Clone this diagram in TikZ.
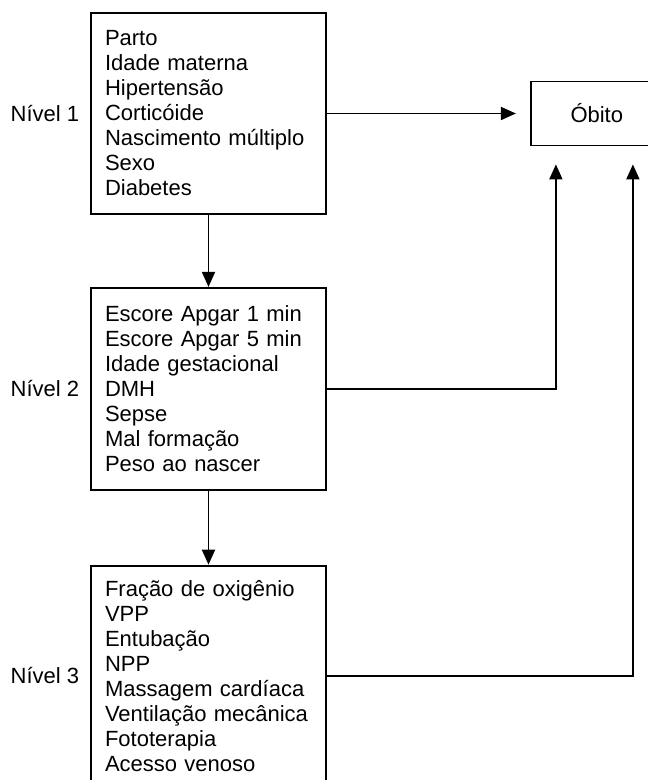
\documentclass[tikz,border=0pt]{standalone}
\usepackage{fontspec}
\setmainfont{Liberation Sans}
\usetikzlibrary{positioning,arrows.meta}

\tikzset{
  nivel/.style={draw, line width=1.8pt, text width=207pt, align=left,
    inner xsep=14pt, inner ysep=0pt, font=\fontsize{22}{25}\selectfont},
  rotulo/.style={inner sep=0pt, font=\fontsize{22}{25}\selectfont},
  desfecho/.style={draw, line width=1.8pt, minimum width=132pt,
    minimum height=64pt, font=\fontsize{22}{25}\selectfont},
}

\begin{document}
\begin{tikzpicture}[x=1pt, y=1pt, >={Triangle[length=15pt, width=13pt]}, line width=1.8pt]
\useasboundingbox (0,0) rectangle (648,-780);
\clip (0,0) rectangle (648,-780);

%Nodes
\node[nivel, minimum height=201pt]  (box1) at (208.5,-113.5)
  {Parto\\Idade materna\\Hipertensão\\Corticóide\\Nascimento múltiplo\\Sexo\\Diabetes};
\node[nivel, minimum height=202pt]  (box2) [below=72pt of box1]
  {Escore Apgar 1 min\\Escore Apgar 5 min\\Idade gestacional\\DMH\\Sepse\\Mal formação\\Peso ao nascer};
\node[nivel, minimum height=220pt]  (box3) [below=74pt of box2]
  {Fração de oxigênio\\VPP\\Entubação\\NPP\\Massagem cardíaca\\Ventilação mecânica\\Fototerapia\\Acesso venoso};
\node[desfecho] (obito) [right=203pt of box1] {Óbito};

\node[rotulo]   (n1)    [left=10pt of box1] {Nível 1};
\node[rotulo]   (n2)    [left=10pt of box2] {Nível 2};
\node[rotulo]   (n3)    [left=10pt of box3] {Nível 3};

\coordinate (a1) at ([xshift=-14pt]obito.west);
\coordinate (a2) at ([xshift=26pt, yshift=-18pt]obito.south west);
\coordinate (a3) at ([xshift=103pt, yshift=-18pt]obito.south west);

%Lines
\draw[->]   (box1.south) -- (box2.north);
\draw[->]   (box2.south) -- (box3.north);
\draw[->]   (box1.east) -- (a1);
\draw[->]   (box2.east) -| (a2);
\draw[->]   (box3.east) -| (a3);
\end{tikzpicture}
\end{document}
